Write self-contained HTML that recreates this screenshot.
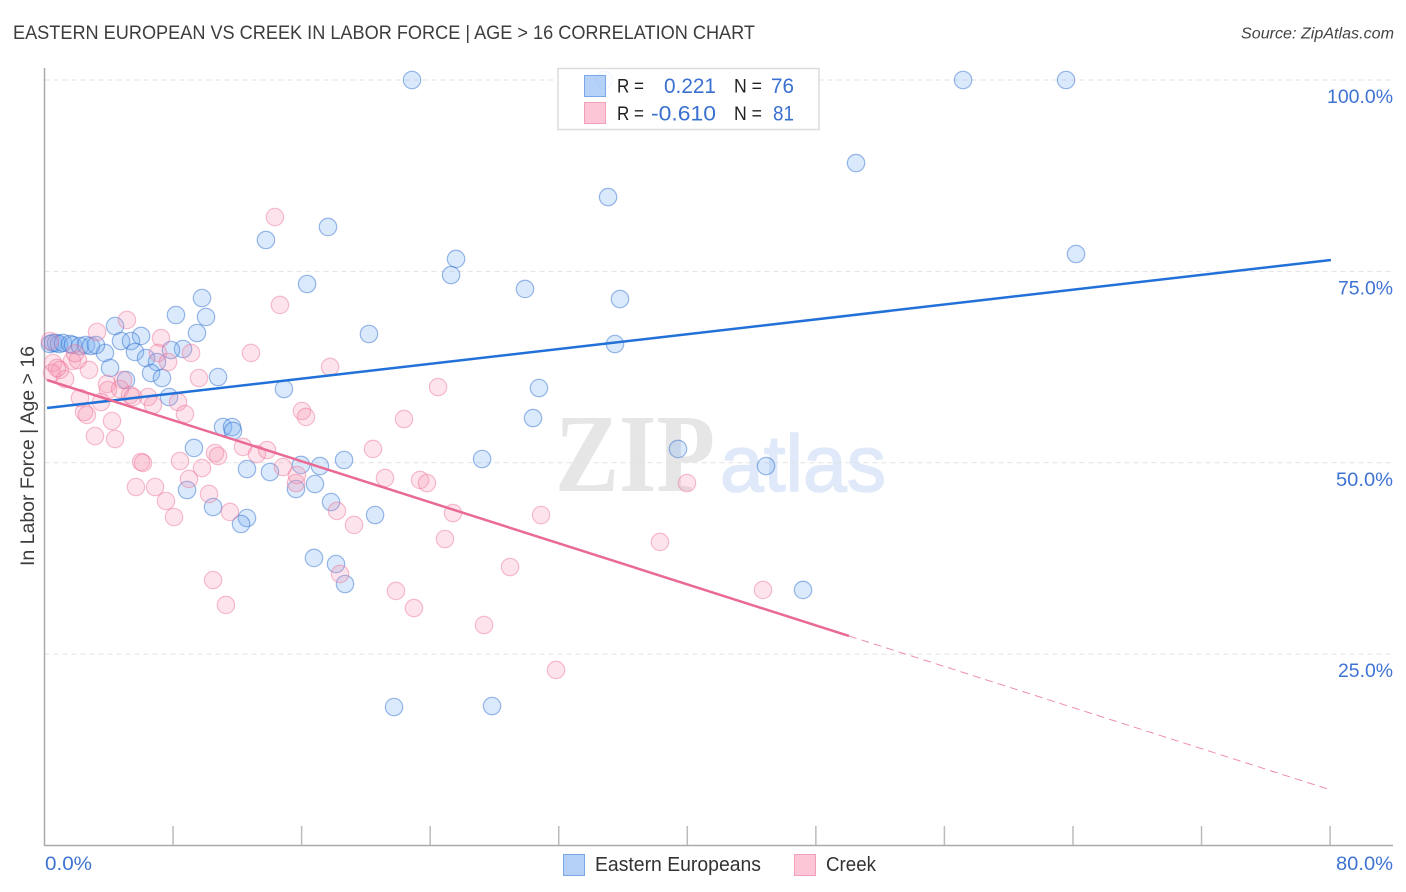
<!DOCTYPE html>
<html lang="en">
<head>
<meta charset="utf-8">
<title>Eastern European vs Creek In Labor Force | Age > 16 Correlation Chart</title>
<style>
html,body{margin:0;padding:0;background:#fff;}
svg{display:block;font-family:"Liberation Sans",sans-serif;}
</style>
</head>
<body>
<svg id="chart" width="1406" height="892" viewBox="0 0 1406 892" xmlns="http://www.w3.org/2000/svg">
  <rect x="0" y="0" width="1406" height="892" fill="#fff"/>
  <text x="13" y="39" font-size="19.5" fill="#3d3d3d" textLength="742" lengthAdjust="spacingAndGlyphs">EASTERN EUROPEAN VS CREEK IN LABOR FORCE | AGE &gt; 16 CORRELATION CHART</text>
  <text x="1394" y="38.5" font-size="15.5" font-style="italic" fill="#444" text-anchor="end" textLength="153" lengthAdjust="spacingAndGlyphs">Source: ZipAtlas.com</text>
  <g id="watermark">
    <text x="555" y="491" font-family="'Liberation Serif',serif" font-weight="bold" font-size="111" fill="#e6e6e6" textLength="160" lengthAdjust="spacingAndGlyphs">ZIP</text>
    <text x="720" y="491" font-size="80" fill="#dfe9fa" stroke="#dfe9fa" stroke-width="1.5" textLength="166" lengthAdjust="spacingAndGlyphs">atlas</text>
  </g>
  <g id="grid"></g>
  <g id="axes"></g>
  <g id="points-blue"></g>
  <g id="points-pink"></g>
  <g id="trend-lines"></g>
  <g id="tick-labels"></g>
  <text transform="translate(34,566) rotate(-90)" font-size="19" fill="#3d3d3d" textLength="220" lengthAdjust="spacingAndGlyphs">In Labor Force | Age &gt; 16</text>

  <g id="stats-legend">
    <rect x="558" y="68.5" width="261" height="61" fill="#fff" fill-opacity="0.88" stroke="#dcdcdc" stroke-width="1.5"/>
    <rect x="584.5" y="75.5" width="21" height="21" fill="rgba(130,178,245,0.58)" stroke="#7ba7e6" stroke-width="1"/>
    <rect x="584.5" y="102.5" width="21" height="21" fill="#fdc6d7" stroke="#f2a0ba" stroke-width="1"/>
    <text x="617" y="92.5" font-size="19" fill="#222" textLength="27" lengthAdjust="spacingAndGlyphs">R =</text>
    <text x="716" y="93" font-size="21" fill="#3a70cf" text-anchor="end" textLength="52" lengthAdjust="spacingAndGlyphs">0.221</text>
    <text x="734" y="92.5" font-size="19" fill="#222" textLength="28" lengthAdjust="spacingAndGlyphs">N =</text>
    <text x="794" y="93" font-size="21" fill="#3a70cf" text-anchor="end" textLength="23" lengthAdjust="spacingAndGlyphs">76</text>
    <text x="617" y="120" font-size="19" fill="#222" textLength="27" lengthAdjust="spacingAndGlyphs">R =</text>
    <text x="716" y="120.5" font-size="21" fill="#3a70cf" text-anchor="end" textLength="65" lengthAdjust="spacingAndGlyphs">-0.610</text>
    <text x="734" y="120" font-size="19" fill="#222" textLength="28" lengthAdjust="spacingAndGlyphs">N =</text>
    <text x="794" y="120.5" font-size="21" fill="#3a70cf" text-anchor="end" textLength="21" lengthAdjust="spacingAndGlyphs">81</text>
  </g>

  <g id="bottom-legend">
    <rect x="563.5" y="854.5" width="21" height="21" fill="#b5d0f7" stroke="#7ba7e6" stroke-width="1"/>
    <text x="595" y="871" font-size="20" fill="#333" textLength="166" lengthAdjust="spacingAndGlyphs">Eastern Europeans</text>
    <rect x="794.5" y="854.5" width="21" height="21" fill="#fdc6d7" stroke="#f2a0ba" stroke-width="1"/>
    <text x="826" y="871" font-size="20" fill="#333" textLength="50" lengthAdjust="spacingAndGlyphs">Creek</text>
  </g>
</svg>

<script>
var blueX = [22.87,34.82,57.16,63.57,50.50,35.07,17.64,13.78,25.61,25.30,64.19,16.34,29.90,9.80,35.81,8.18,10.05,4.39,9.49,6.01,20.19,4.76,5.38,35.50,8.62,7.87,5.63,6.32,3.76,4.08,7.00,6.63,7.31,5.07,10.80,14.90,30.77,7.75,30.40,11.11,11.67,11.73,9.30,39.42,27.23,18.64,44.90,12.60,14.03,15.96,17.14,16.83,8.87,15.65,17.83,10.49,12.60,12.23,20.57,16.77,18.14,18.70,47.20,21.75,27.85,0.34,0.53,0.72,0.90,1.15,1.59,1.77,2.21,2.58,2.89,3.20];
var blueY = [100,100,100,100,89.15,84.71,80.80,79.10,76.62,74.52,77.27,73.35,72.70,71.52,71.39,69.30,69.04,67.86,66.95,66.56,66.82,65.90,65.90,65.51,64.86,64.73,64.47,63.68,64.34,62.38,63.16,61.72,61.07,60.81,61.20,59.63,59.76,58.59,55.84,54.67,54.67,54.15,51.93,51.80,50.49,50.36,49.57,49.18,48.79,49.71,49.57,47.22,46.44,46.57,44.87,44.22,42.78,42.00,43.17,37.56,36.77,34.16,33.38,18.09,18.22,65.51,65.65,65.65,65.51,65.65,65.51,65.38,65.25,65.38,65.25,65.38];
var pinkX = [5.13,3.27,7.25,7.06,7.69,9.12,12.85,1.71,2.08,2.77,0.53,0.96,0.47,1.28,4.89,9.61,3.89,3.95,4.70,5.32,5.51,6.44,6.75,8.31,8.74,2.21,3.52,2.46,2.64,4.20,3.14,4.39,6.01,6.13,8.43,9.80,10.61,10.80,12.35,13.22,8.99,5.69,6.88,7.56,10.24,8.06,11.54,14.34,14.65,16.02,16.27,17.77,24.49,22.37,20.44,13.85,14.84,15.65,15.71,21.19,23.37,23.80,25.42,30.90,18.20,19.26,24.92,38.30,39.98,44.71,28.97,18.39,21.87,22.99,27.35,31.83,10.49,11.29,0.34,0.78,1.90];
var pinkY = [68.65,67.08,66.29,64.34,63.16,64.34,64.34,63.29,63.42,62.12,63.03,62.12,61.72,60.94,60.81,61.07,60.29,59.50,59.63,58.85,58.59,58.59,57.54,57.93,56.37,58.46,57.93,56.63,56.24,55.45,53.49,53.10,50.10,49.97,50.23,49.31,51.27,50.88,52.06,51.14,47.88,46.83,46.83,45.00,45.92,42.91,43.57,82.10,70.61,56.76,55.98,62.51,59.89,55.71,51.80,51.66,49.44,47.35,48.40,48.01,47.75,47.35,43.43,43.17,43.70,41.87,40.04,39.65,47.35,33.38,36.38,35.47,33.25,31.02,28.80,22.93,34.68,31.42,65.90,62.38,64.30];
var blueLineX = [0.16,80.05];
var blueLineY = [57.15,76.49];
var pinkLineX = [0.16,50.06];
var pinkLineY = [60.81,27.37];
var pinkDashX = [50.06,80.05];
var pinkDashY = [27.37,7.25];
var yGridValues = [100,75,50,25];
var xTickValues = [8,16,24,32,40,48,56,64,72,80];
var yTickLabels = ["100.0%","75.0%","50.0%","25.0%"];
var xTickLabels = ["0.0%","80.0%"];

var NS = "http://www.w3.org/2000/svg";
function sx(v){ return 44.5 + 16.07 * v; }
function sy(v){ return 845.5 - 7.655 * v; }
function mk(tag, parent, attrs){
  var el = document.createElementNS(NS, tag);
  for (var k in attrs) el.setAttribute(k, attrs[k]);
  document.getElementById(parent).appendChild(el);
  return el;
}

yGridValues.forEach(function(v){
  var el = mk("line", "grid", {x1:44.5, x2:1393, y1:sy(v), y2:sy(v), stroke:"#e2e2e2", "stroke-width":1, "stroke-dasharray":"5 4"});
  
  
});

var yAxis = mk("line", "axes", {x1:44.5, x2:44.5, y1:68, y2:846, stroke:"#aaa", "stroke-width":1.5});


var xAxis = mk("line", "axes", {x1:44, x2:1393, y1:845.5, y2:845.5, stroke:"#aaa", "stroke-width":1.5});


xTickValues.forEach(function(v){
  var el = mk("line", "axes", {x1:sx(v), x2:sx(v), y1:826, y2:845, stroke:"#bbb", "stroke-width":1.5});
  
  
});

blueX.forEach(function(v, i){
  var el = mk("circle", "points-blue", {cx:sx(v), cy:sy(blueY[i]), r:8.7, fill:"rgba(120,172,242,0.27)", stroke:"rgba(55,115,210,0.5)", "stroke-width":1.2});
  
  
});
pinkX.forEach(function(v, i){
  var el = mk("circle", "points-pink", {cx:sx(v), cy:sy(pinkY[i]), r:8.7, fill:"rgba(248,145,175,0.25)", stroke:"rgba(235,115,150,0.45)", "stroke-width":1.2});
  
  
});

var blueTrend = mk("line", "trend-lines", {x1:sx(blueLineX[0]), y1:sy(blueLineY[0]), x2:sx(blueLineX[1]), y2:sy(blueLineY[1]), stroke:"#2271d8", "stroke-width":2.5});


var pinkTrend = mk("line", "trend-lines", {x1:sx(pinkLineX[0]), y1:sy(pinkLineY[0]), x2:sx(pinkLineX[1]), y2:sy(pinkLineY[1]), stroke:"#e96a95", "stroke-width":2.5});


var pinkDash = mk("line", "trend-lines", {x1:sx(pinkDashX[0]), y1:sy(pinkDashY[0]), x2:sx(pinkDashX[1]), y2:sy(pinkDashY[1]), stroke:"#ee8fae", "stroke-width":1, "stroke-dasharray":"8 5"});



var yLabelWidths = [66,55,57,55];
yTickLabels.forEach(function(t, i){
  var el = mk("text", "tick-labels", {x:1393, y:sy(yGridValues[i]) + 23, "text-anchor":"end", "font-size":19, fill:"#3f73d3", textLength:yLabelWidths[i], lengthAdjust:"spacingAndGlyphs"});
  el.textContent = t;
  
  
});
var xStart = mk("text", "tick-labels", {x:45, y:870, "font-size":19, fill:"#3f73d3", textLength:47, lengthAdjust:"spacingAndGlyphs"});
xStart.textContent = xTickLabels[0];


var xEnd = mk("text", "tick-labels", {x:1393, y:870, "text-anchor":"end", "font-size":19, fill:"#3f73d3", textLength:57, lengthAdjust:"spacingAndGlyphs"});
xEnd.textContent = xTickLabels[1];


</script>
</body>
</html>
